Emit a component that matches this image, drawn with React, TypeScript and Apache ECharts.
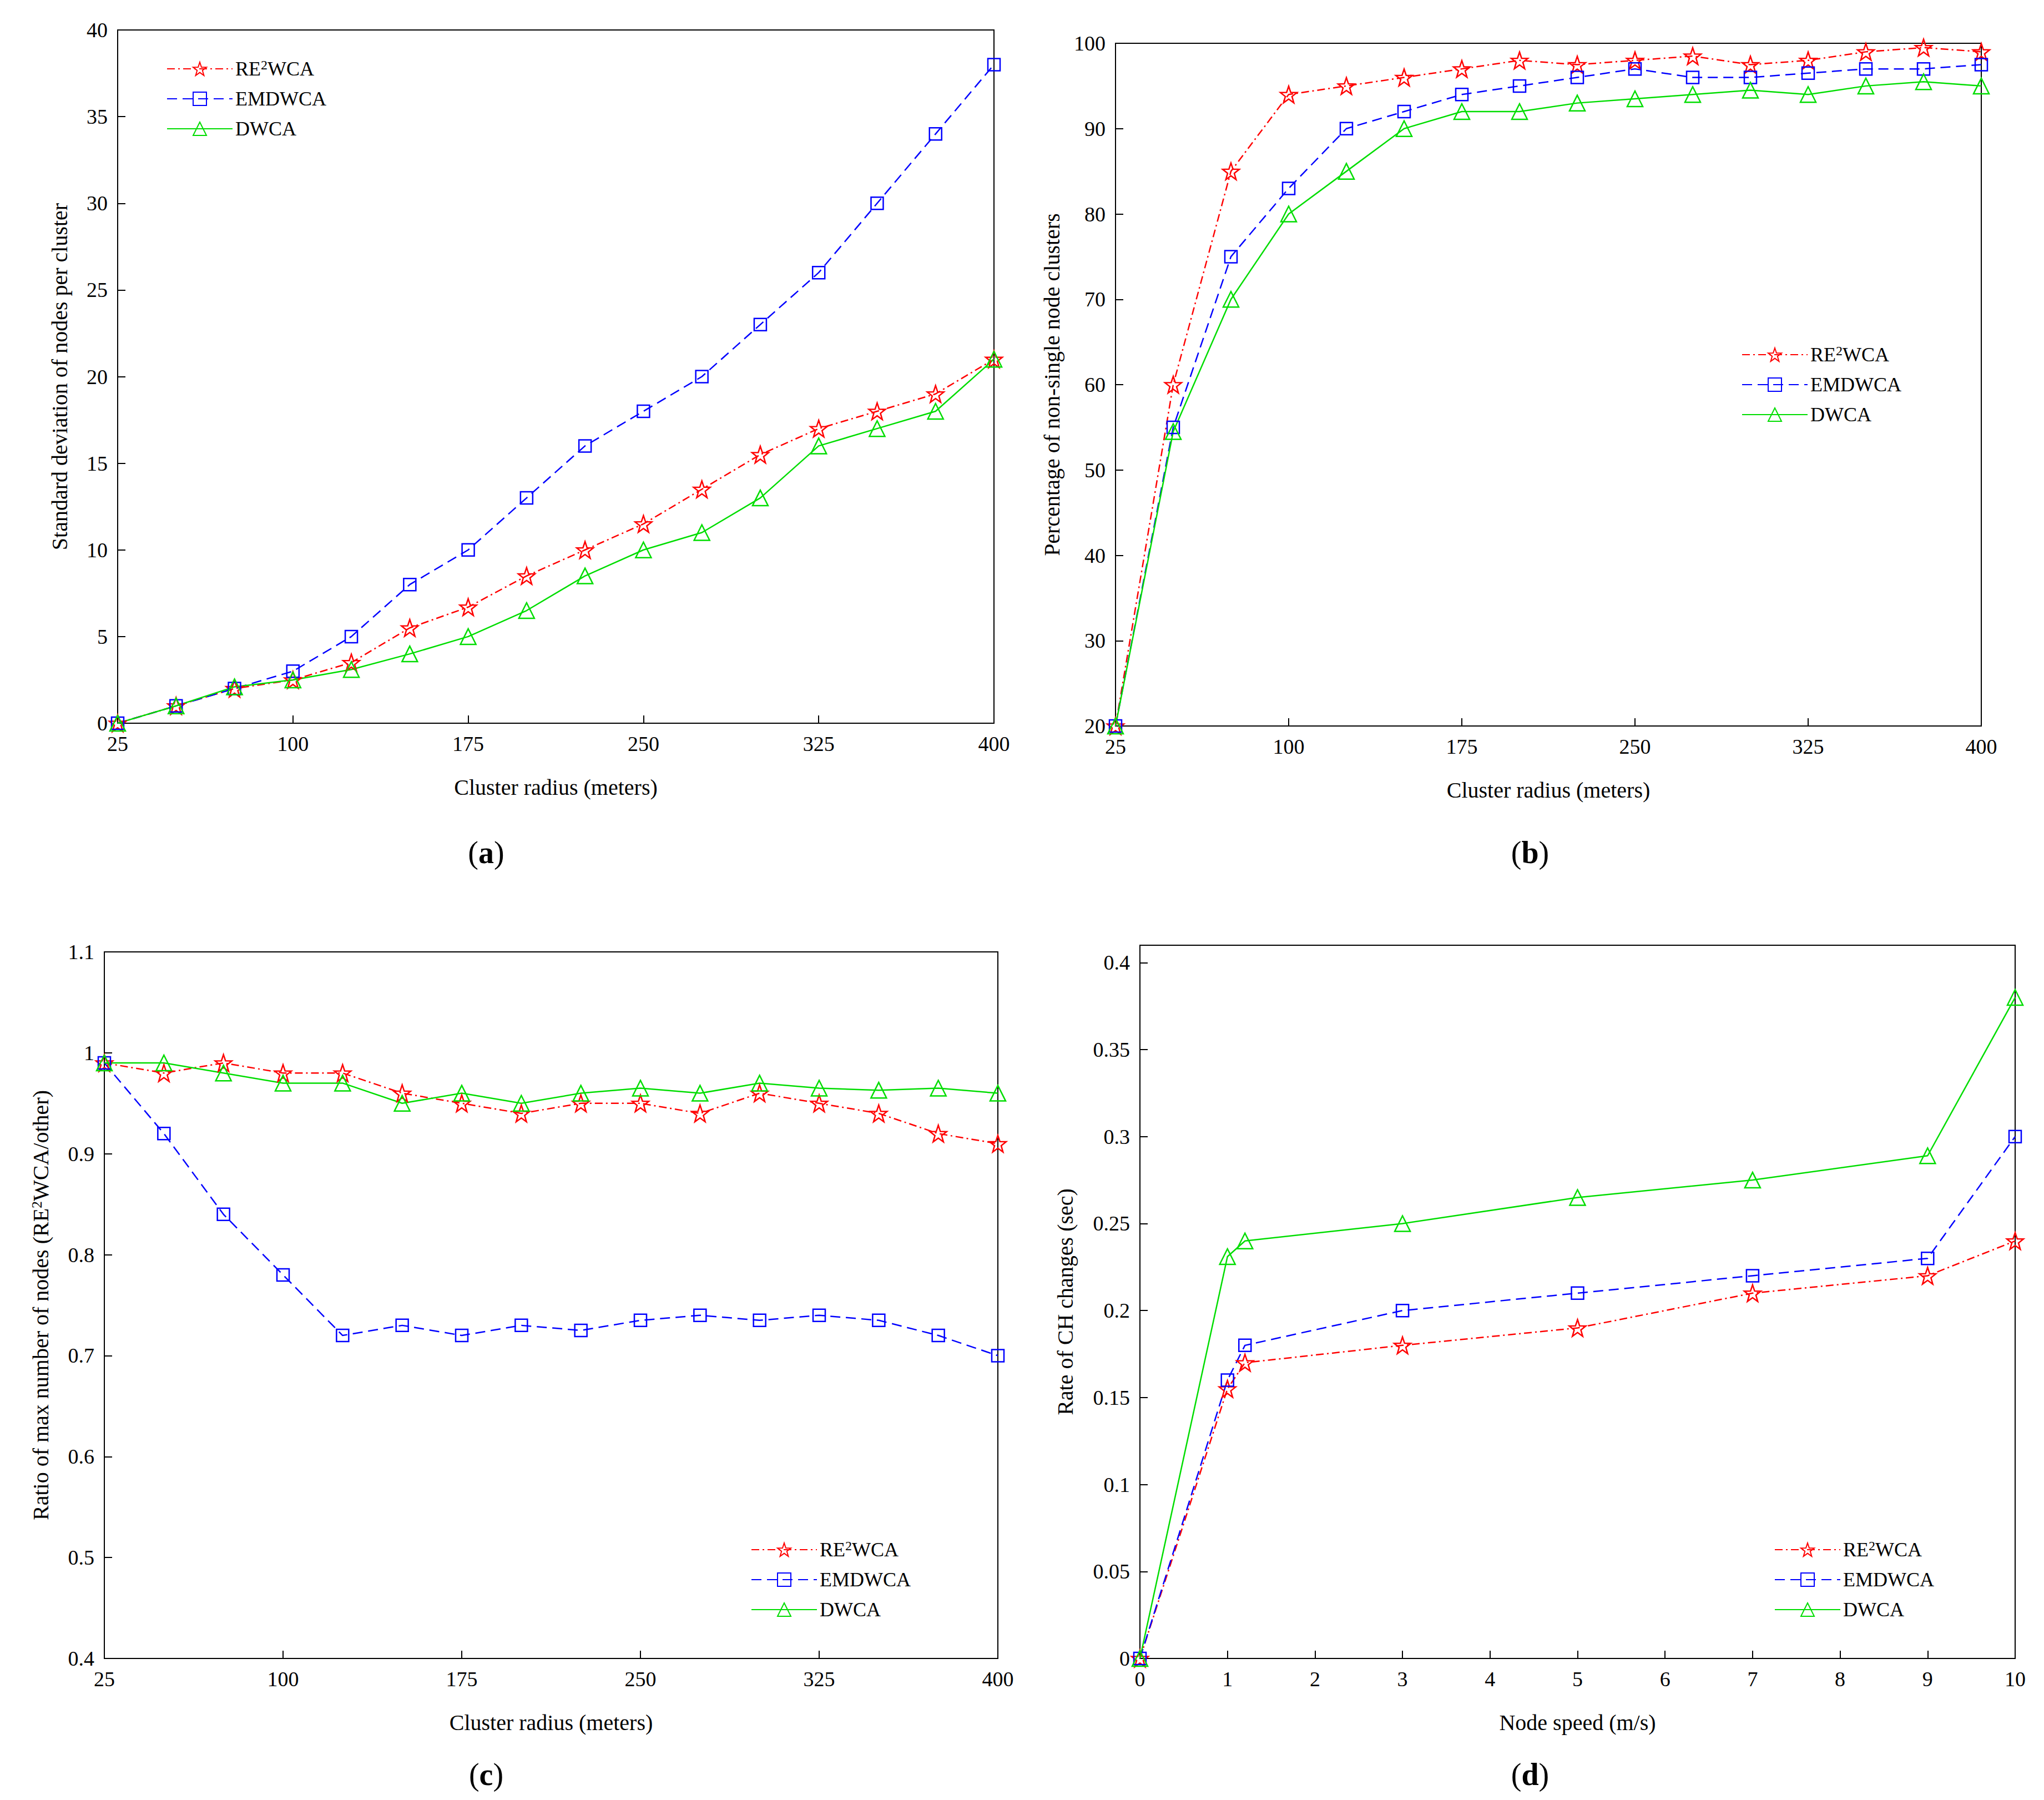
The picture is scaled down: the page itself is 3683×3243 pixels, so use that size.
import { useEffect, useRef } from 'react';
import * as echarts from 'echarts';

const radius = [25, 50, 75, 100, 125, 150, 175, 200, 225, 250, 275, 300, 325, 350, 375, 400];
const radiusTicks = [25, 100, 175, 250, 325, 400];

const stdRe2 = [0, 1, 2, 2.5, 3.5, 5.5, 6.7, 8.5, 10, 11.5, 13.5, 15.5, 17, 18, 19, 21];
const stdEmd = [0, 1, 2, 3, 5, 8, 10, 13, 16, 18, 20, 23, 26, 30, 34, 38];
const stdDw = [0, 1, 2.1, 2.5, 3.1, 4, 5, 6.5, 8.5, 10, 11, 13, 16, 17, 18, 21];

const pctRe2 = [20, 60, 85, 94, 95, 96, 97, 98, 97.5, 98, 98.5, 97.5, 98, 99, 99.5, 99];
const pctEmd = [20, 55, 75, 83, 90, 92, 94, 95, 96, 97, 96, 96, 96.5, 97, 97, 97.5];
const pctDw = [20, 54.5, 70, 80, 85, 90, 92, 92, 93, 93.5, 94, 94.5, 94, 95, 95.5, 95];

const ratioRe2 = [0.99, 0.98, 0.99, 0.98, 0.98, 0.96, 0.95, 0.94, 0.95, 0.95, 0.94, 0.96, 0.95, 0.94, 0.92, 0.91];
const ratioEmd = [0.99, 0.92, 0.84, 0.78, 0.72, 0.73, 0.72, 0.73, 0.725, 0.735, 0.74, 0.735, 0.74, 0.735, 0.72, 0.7];
const ratioDw = [0.99, 0.99, 0.98, 0.97, 0.97, 0.95, 0.96, 0.95, 0.96, 0.965, 0.96, 0.97, 0.965, 0.963, 0.965, 0.96];

const speed = [0, 1, 1.2, 3, 5, 7, 9, 10];
const chRe2 = [0, 0.155, 0.17, 0.18, 0.19, 0.21, 0.22, 0.24];
const chEmd = [0, 0.16, 0.18, 0.2, 0.21, 0.22, 0.23, 0.3];
const chDw = [0, 0.231, 0.24, 0.25, 0.265, 0.275, 0.289, 0.38];

const FONT = 'Liberation Serif';
const STAR = 'path://M0,-10L2.35,-3.24L9.51,-3.09L3.8,1.24L5.88,8.09L0,4L-5.88,8.09L-3.8,1.24L-9.51,-3.09L-2.35,-3.24Z';
const rich = { sup: { fontSize: 24, verticalAlign: 'top', padding: [0, 0, 14, 0], fontFamily: FONT } };

const zip = (xs: number[], ys: number[]) => xs.map((x, i) => [x, ys[i]]);

const grids = [
  { left: 212, top: 54, width: 1579, height: 1249 },
  { left: 2010, top: 78, width: 1560, height: 1230 },
  { left: 188, top: 1715, width: 1610, height: 1273 },
  { left: 2054, top: 1703, width: 1577, height: 1285 },
];

export default function App() {
  const ref = useRef<HTMLDivElement>(null);

  useEffect(() => {
    if (!ref.current) return;
    const chart = echarts.init(ref.current, undefined, { renderer: 'svg' });
    const axisCommon = {
      axisLine: { show: true, onZero: false, lineStyle: { color: '#000', width: 2 } },
      axisTick: { inside: true, length: 14, lineStyle: { color: '#000', width: 2 } },
      axisLabel: { color: '#000', fontSize: 38, fontFamily: FONT, margin: 18 },
      splitLine: { show: false },
      nameLocation: 'middle' as const,
      nameTextStyle: { color: '#000', fontSize: 40, fontFamily: FONT, rich: { sup: { fontSize: 26, verticalAlign: 'top', padding: [0, 0, 14, 0], fontFamily: FONT } } },
    };
    const radiusAxis = (i: number) => ({
      ...axisCommon, type: 'value', gridIndex: i, min: 25, max: 400, name: 'Cluster radius (meters)', nameGap: 95,
      axisLabel: { ...axisCommon.axisLabel, customValues: radiusTicks },
      axisTick: { ...axisCommon.axisTick, customValues: radiusTicks },
    });
    const mk = (name: string, kind: number, i: number, data: number[][]) => {
      const color = ['#ff0000', '#0000ff', '#00dd00'][kind];
      return {
        name, type: 'line', xAxisIndex: i, yAxisIndex: i, data,
        symbol: [STAR, 'rect', 'triangle'][kind],
        symbolSize: [30, 22, 28][kind],
        itemStyle: { color: 'transparent', borderColor: color, borderWidth: 2.5 },
        lineStyle: { color, width: 2.5, type: [[14, 6, 3, 6], [18, 10], 'solid'][kind] },
      };
    };
    const legend = (i: number, left: number, top: number) => ({
      show: true, left, top, orient: 'vertical', itemGap: 18, itemWidth: 118, itemHeight: 30,
      data: ['RE2WCA', 'EMDWCA', 'DWCA'].map((n) => ({ name: n + '#' + i })),
      formatter: (n: string) => (n.startsWith('RE2') ? 'RE{sup|2}WCA' : n.split('#')[0]),
      textStyle: { color: '#000', fontSize: 36, fontFamily: FONT, rich },
    });
    const series: any[] = [];
    const sets = [
      [zip(radius, stdRe2), zip(radius, stdEmd), zip(radius, stdDw)],
      [zip(radius, pctRe2), zip(radius, pctEmd), zip(radius, pctDw)],
      [zip(radius, ratioRe2), zip(radius, ratioEmd), zip(radius, ratioDw)],
      [zip(speed, chRe2), zip(speed, chEmd), zip(speed, chDw)],
    ];
    sets.forEach((s, i) => {
      ['RE2WCA', 'EMDWCA', 'DWCA'].forEach((n, k) => series.push(mk(n + '#' + i, k, i, s[k])));
    });
    const chTicks = [0, 0.05, 0.1, 0.15, 0.2, 0.25, 0.3, 0.35, 0.4];
    const label = (x: number, y: number, l: string) => ({
      type: 'text', x, y,
      style: { text: '({b|' + l + '})', fill: '#000', font: `56px ${FONT}`, align: 'center', verticalAlign: 'middle',
        rich: { b: { fontSize: 56, fontWeight: 'bold', fontFamily: FONT } } },
    });
    chart.setOption({
      animation: false,
      backgroundColor: '#fff',
      grid: grids.map((g) => ({ ...g, show: true, borderColor: '#000', borderWidth: 2, backgroundColor: 'transparent' })),
      xAxis: [
        radiusAxis(0), radiusAxis(1), radiusAxis(2),
        { ...axisCommon, type: 'value', gridIndex: 3, min: 0, max: 10, interval: 1, name: 'Node speed (m/s)', nameGap: 95 },
      ],
      yAxis: [
        { ...axisCommon, type: 'value', gridIndex: 0, min: 0, max: 40, interval: 5, name: 'Standard deviation of nodes per cluster', nameGap: 85 },
        { ...axisCommon, type: 'value', gridIndex: 1, min: 20, max: 100, interval: 10, name: 'Percentage of non-single node clusters', nameGap: 95 },
        { ...axisCommon, type: 'value', gridIndex: 2, min: 0.4, max: 1.1, interval: 0.1, name: 'Ratio of max number of nodes (RE{sup|2}WCA/other)', nameGap: 95,
          axisLabel: { ...axisCommon.axisLabel, formatter: (v: number) => String(Math.round(v * 10) / 10) } },
        { ...axisCommon, type: 'value', gridIndex: 3, min: 0, max: 0.41, name: 'Rate of CH changes (sec)', nameGap: 115,
          axisLabel: { ...axisCommon.axisLabel, customValues: chTicks },
          axisTick: { ...axisCommon.axisTick, customValues: chTicks } },
      ],
      legend: [legend(0, 295, 100), legend(1, 3133, 615), legend(2, 1348, 2768), legend(3, 3192, 2768)],
      series,
      graphic: [label(876, 1536, 'a'), label(2757, 1536, 'b'), label(876, 3197, 'c'), label(2757, 3197, 'd')],
    });
    return () => chart.dispose();
  }, []);

  return <div ref={ref} style={{ position: 'absolute', left: 0, top: 0, width: 3683, height: 3243 }} />;
}
